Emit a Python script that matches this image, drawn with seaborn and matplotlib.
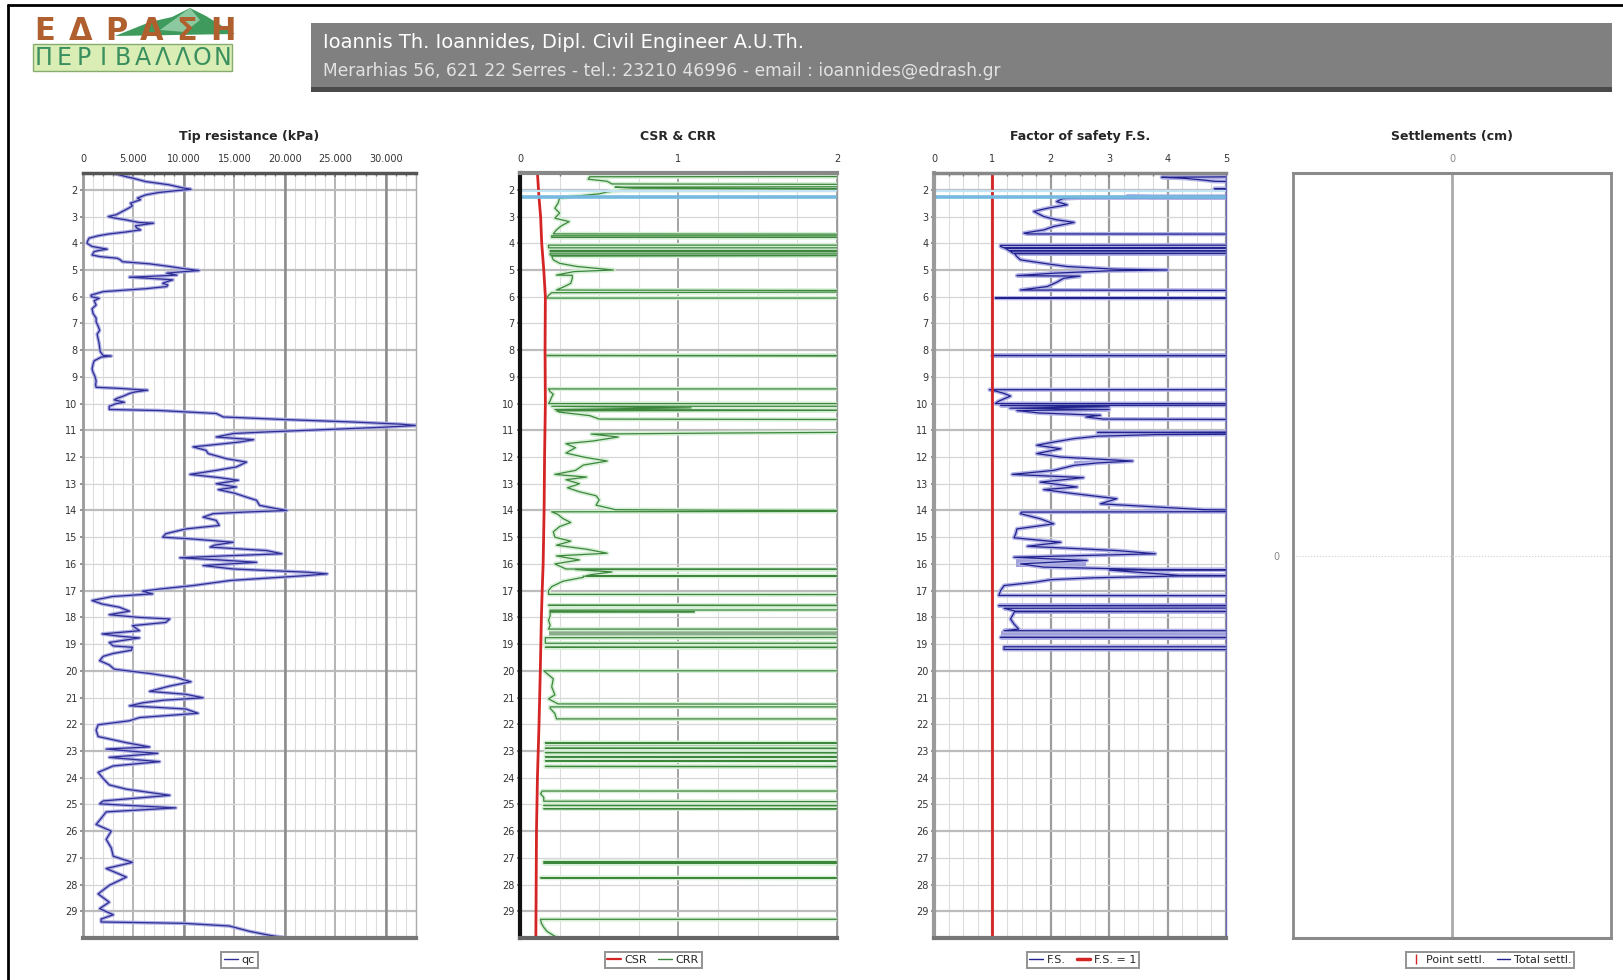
import numpy as np
import pandas as pd
import matplotlib
matplotlib.use("Agg")
import matplotlib.pyplot as plt
import seaborn as sns
from matplotlib.lines import Line2D
from matplotlib.patches import Rectangle, Polygon

sns.set_theme(style="white")
plt.rcParams['font.family'] = ['DejaVu Sans']

W, H = 1624, 980
DEPTH_TOP, DEPTH_BOTTOM = 1.37, 30.0

# ---- data ----------------------------------------------------------------
depth_ticks = list(range(2, 30))

qc_depth = [
    1.40, 1.50, 1.56, 1.69, 1.81, 1.92, 1.98, 2.04, 2.10, 2.19,
    2.31, 2.37, 2.50, 2.60, 2.69, 2.81, 2.93, 3.00, 3.06, 3.12,
    3.22, 3.25, 3.30, 3.35, 3.42, 3.50, 3.58, 3.65, 3.72, 3.81,
    3.92, 4.00, 4.12, 4.22, 4.27, 4.31, 4.44, 4.50, 4.56, 4.62,
    4.69, 4.77, 4.87, 4.95, 5.02, 5.08, 5.12, 5.19, 5.25, 5.27,
    5.32, 5.37, 5.45, 5.50, 5.56, 5.62, 5.70, 5.75, 5.81, 5.94,
    6.00, 6.06, 6.15, 6.31, 6.45, 6.63, 6.80, 6.94, 7.10, 7.26,
    7.40, 7.57, 7.75, 7.89, 8.05, 8.20, 8.22, 8.26, 8.40, 8.52,
    8.70, 8.83, 9.00, 9.15, 9.30, 9.39, 9.43, 9.50, 9.56, 9.62,
    9.72, 9.80, 9.86, 9.95, 10.00, 10.10, 10.22, 10.26, 10.37, 10.50,
    10.60, 10.69, 10.77, 10.82, 10.88, 10.94, 11.06, 11.12, 11.25, 11.35,
    11.44, 11.62, 11.75, 11.87, 12.06, 12.19, 12.37, 12.50, 12.65, 12.77,
    12.87, 13.00, 13.12, 13.22, 13.35, 13.50, 13.62, 13.81, 13.92, 14.00,
    14.06, 14.12, 14.25, 14.37, 14.56, 14.69, 14.87, 15.00, 15.06, 15.19,
    15.30, 15.37, 15.50, 15.62, 15.70, 15.77, 15.85, 15.94, 16.06, 16.19,
    16.31, 16.37, 16.44, 16.50, 16.62, 16.81, 16.94, 17.02, 17.12, 17.22,
    17.37, 17.50, 17.62, 17.77, 17.90, 18.00, 18.06, 18.19, 18.31, 18.50,
    18.62, 18.70, 18.77, 18.94, 19.07, 19.12, 19.23, 19.35, 19.46, 19.62,
    19.78, 19.94, 20.10, 20.25, 20.41, 20.57, 20.77, 20.88, 21.01, 21.10,
    21.20, 21.31, 21.43, 21.59, 21.75, 21.87, 22.02, 22.22, 22.46, 22.69,
    22.85, 22.93, 23.09, 23.24, 23.40, 23.56, 23.80, 24.03, 24.27, 24.43,
    24.66, 24.87, 24.98, 25.13, 25.28, 25.52, 25.75, 26.00, 26.31, 26.63,
    26.94, 27.17, 27.40, 27.72, 28.03, 28.35, 28.66, 28.90, 29.13, 29.29,
    29.40, 29.45, 29.55, 29.75, 29.90, 30.00,
]
qc_kpa = [
    3200, 4200, 4900, 6200, 8500, 9800, 10700, 9000, 7500, 6200,
    5400, 5700, 4700, 4900, 4500, 3900, 3300, 2500, 3200, 4200,
    5500, 7000, 6000, 5200, 5300, 5700, 4200, 2600, 1500, 600,
    450, 400, 900, 2400, 1600, 1100, 900, 1700, 3400, 3700,
    3900, 6600, 8600, 10000, 11500, 9400, 8300, 9300, 6000, 4600,
    7000, 8900, 8200, 7900, 8400, 8300, 6200, 4300, 2000, 800,
    820, 1600, 1100, 1300, 900, 1000, 1300, 1300, 1500, 1650,
    1400, 1500, 1600, 1650, 1700, 2000, 2800, 1800, 1100, 1000,
    900, 1000, 1200, 1300, 1250, 1300, 3600, 6400, 5200, 4600,
    4000, 3400, 3100, 4100, 3300, 2600, 2600, 7600, 13200, 13900,
    20200, 26800, 31500, 33000, 30000, 26200, 18200, 14900, 13200, 16900,
    15500, 10900, 12200, 12400, 14200, 16200, 15200, 13200, 10600, 13500,
    15400, 13200, 15200, 13400, 15000, 16200, 17200, 17500, 19000, 20200,
    16000, 12900, 11900, 13200, 13500, 10200, 8200, 7900, 10600, 14900,
    13000, 12600, 18200, 19700, 14000, 9600, 13500, 17200, 11900, 14900,
    22200, 24200, 22000, 19500, 14600, 10900, 7600, 5900, 6900, 2900,
    900, 1900, 3600, 4600, 2600, 5500, 8600, 8200, 4900, 5600,
    1900, 3500, 5600, 2600, 3000, 4900, 4800, 3000, 2000, 1650,
    2600, 3100, 6600, 9200, 10700, 8600, 6600, 10200, 11900, 8000,
    5900, 4600, 10200, 11400, 5600, 4600, 1500, 1300, 1500, 4300,
    6600, 2300, 7400, 2600, 7600, 3000, 1500, 2000, 2600, 4300,
    8600, 2000, 1650, 9200, 2300, 1800, 1300, 2800, 2300, 2800,
    3000, 4900, 2300, 4300, 2600, 1500, 2600, 1650, 3000, 1800,
    1800, 9900, 14500, 16500, 18500, 20300,
]
qc_ticks = [0, 5000, 10000, 15000, 20000, 25000, 30000]
qc_tick_labels = ["0", "5.000", "10.000", "15.000", "20.000", "25.000", "30.000"]

csr_depth = [1.37, 2.3, 3.0, 4.0, 5.0, 6.0, 8.0, 10.0, 12.0, 14.0, 16.0, 17.0,
             18.0, 20.0, 22.0, 24.0, 26.0, 28.0, 30.0]
csr_value = [0.11, 0.12, 0.13, 0.137, 0.15, 0.16, 0.158, 0.16, 0.155, 0.152,
             0.146, 0.14, 0.135, 0.128, 0.12, 0.11, 0.104, 0.102, 0.10]

# CRR, 2.5 = beyond the right edge of the scale (non liquefiable)
crr_depth = [
    1.50, 1.51, 1.60, 1.68, 1.78, 1.80, 1.88, 1.90, 1.94, 1.96,
    2.00, 2.02, 2.08, 2.15, 2.22, 2.27, 2.31, 2.50, 2.69, 2.87,
    3.06, 3.19, 3.35, 3.50, 3.65, 3.66, 3.72, 3.72, 3.78, 3.78,
    4.07, 4.07, 4.12, 4.17, 4.17, 4.27, 4.27, 4.30, 4.30, 4.37,
    4.37, 4.44, 4.44, 4.46, 4.48, 4.62, 4.75, 4.87, 5.00, 5.06,
    5.19, 5.20, 5.31, 5.50, 5.62, 5.75, 5.77, 5.82, 5.85, 5.95,
    6.05, 6.05, 8.20, 8.20, 8.22, 9.45, 9.45, 9.55, 9.65, 9.75,
    9.90, 10.00, 10.00, 10.10, 10.10, 10.16, 10.22, 10.25, 10.27, 10.32,
    10.45, 10.58, 10.60, 11.06, 11.10, 11.14, 11.25, 11.40, 11.50, 11.65,
    11.85, 12.00, 12.15, 12.30, 12.50, 12.65, 12.75, 12.85, 13.00, 13.15,
    13.30, 13.45, 13.60, 13.80, 13.97, 13.99, 14.00, 14.03, 14.05, 14.15,
    14.30, 14.45, 14.60, 14.80, 15.00, 15.15, 15.30, 15.45, 15.60, 15.70,
    15.85, 16.00, 16.19, 16.20, 16.21, 16.30, 16.40, 16.44, 16.45, 16.46,
    16.50, 16.65, 16.85, 17.00, 17.14, 17.15, 17.55, 17.55, 17.56, 17.72,
    17.73, 17.78, 17.79, 17.80, 17.95, 18.10, 18.30, 18.44, 18.44, 18.75,
    18.76, 18.97, 18.97, 19.12, 19.12, 19.13, 20.00, 20.00, 20.10, 20.30,
    20.60, 20.90, 21.05, 21.24, 21.25, 21.35, 21.35, 21.40, 21.60, 21.80,
    21.80, 22.70, 22.70, 22.71, 22.90, 22.90, 22.91, 23.06, 23.06, 23.07,
    23.22, 23.22, 23.23, 23.37, 23.37, 23.38, 23.58, 23.58, 23.59, 24.50,
    24.50, 24.60, 24.74, 24.88, 24.90, 25.04, 25.04, 25.05, 25.16, 25.16,
    25.17, 27.15, 27.15, 27.16, 27.20, 27.20, 27.21, 27.75, 27.75, 27.76,
    29.30, 29.30, 29.45, 29.60, 29.75, 29.90, 30.00,
]
crr_value = [
    2.5, 0.44, 0.43, 0.55, 0.58, 2.5, 2.5, 0.60, 0.72, 2.5,
    2.5, 0.63, 0.55, 0.50, 0.38, 0.30, 0.25, 0.24, 0.22, 0.25,
    0.22, 0.31, 0.26, 0.23, 0.21, 2.5, 2.5, 0.20, 0.20, 2.5,
    2.5, 0.18, 0.18, 0.18, 2.5, 2.5, 0.19, 0.19, 2.5, 2.5,
    0.19, 0.19, 2.5, 2.5, 0.20, 0.21, 0.25, 0.36, 0.59, 0.34,
    0.23, 0.33, 0.33, 0.32, 0.28, 0.23, 2.5, 2.5, 0.20, 0.18,
    0.17, 2.5, 2.5, 0.17, 2.5, 2.5, 0.18, 0.19, 0.21, 0.20,
    0.19, 0.18, 2.5, 2.5, 0.20, 1.08, 0.22, 2.5, 0.23, 0.25,
    0.44, 0.50, 2.5, 2.5, 1.33, 0.45, 0.62, 0.46, 0.29, 0.35,
    0.29, 0.40, 0.55, 0.40, 0.35, 0.22, 0.42, 0.29, 0.375, 0.30,
    0.375, 0.48, 0.50, 0.48, 0.60, 1.31, 2.5, 2.5, 0.20, 0.24,
    0.27, 0.32, 0.25, 0.21, 0.22, 0.32, 0.23, 0.42, 0.55, 0.23,
    0.375, 0.22, 0.29, 2.5, 0.35, 0.58, 0.45, 0.42, 2.5, 0.40,
    0.40, 0.27, 0.20, 0.18, 0.18, 2.5, 2.5, 0.18, 2.5, 2.5,
    0.19, 0.19, 1.10, 0.19, 0.19, 0.18, 0.19, 0.18, 2.5, 2.5,
    0.16, 0.16, 2.5, 2.5, 0.16, 2.5, 2.5, 0.15, 0.17, 0.21,
    0.20, 0.22, 0.18, 0.24, 2.5, 2.5, 0.19, 0.19, 0.22, 0.23,
    2.5, 2.5, 0.16, 2.5, 2.5, 0.16, 2.5, 2.5, 0.16, 2.5,
    2.5, 0.16, 2.5, 2.5, 0.16, 2.5, 2.5, 0.16, 2.5, 2.5,
    0.14, 0.13, 0.15, 0.15, 2.5, 2.5, 0.15, 2.5, 2.5, 0.15,
    2.5, 2.5, 0.15, 2.5, 2.5, 0.15, 2.5, 2.5, 0.13, 2.5,
    2.5, 0.13, 0.135, 0.15, 0.17, 0.21, 0.24,
]
crr_band_top = [1.80, 3.66, 4.07, 5.77, 8.18, 10.12, 11.06, 13.98, 17.55, 18.44, 19.12, 22.70, 27.15]
crr_band_bot = [2.00, 3.72, 4.12, 5.82, 8.26, 10.21, 11.14, 14.04, 17.72, 18.75, 19.22, 22.90, 27.20]
crr_band_x0 = [0.60, 0.21, 0.18, 0.23, 1.08, 0.20, 0.45, 1.31, 0.18, 0.18, 0.16, 0.16, 0.15]
crr_band_x1 = [2.0, 2.0, 2.0, 2.0, 2.0, 1.08, 1.33, 2.0, 2.0, 2.0, 2.0, 2.0, 2.0]

# factor of safety, 6.0 = beyond the right edge of the scale
fs_depth = [
    1.50, 1.53, 1.57, 1.63, 1.68, 1.72, 1.95, 1.96, 1.98, 2.24,
    2.25, 2.27, 2.28, 2.29, 2.30, 2.33, 2.44, 2.56, 2.69, 2.81,
    3.00, 3.12, 3.22, 3.37, 3.50, 3.62, 3.65, 3.66, 4.07, 4.08,
    4.12, 4.17, 4.17, 4.18, 4.27, 4.28, 4.29, 4.37, 4.38, 4.39,
    4.50, 4.62, 4.77, 4.87, 4.97, 5.00, 5.03, 5.12, 5.21, 5.23,
    5.31, 5.46, 5.62, 5.75, 5.77, 6.05, 6.05, 6.06, 8.20, 8.20,
    8.21, 9.48, 9.48, 9.55, 9.62, 9.72, 9.82, 9.92, 10.00, 10.00,
    10.06, 10.07, 10.12, 10.17, 10.22, 10.26, 10.35, 10.44, 10.50, 10.58,
    10.60, 11.06, 11.08, 11.10, 11.14, 11.16, 11.22, 11.31, 11.44, 11.56,
    11.69, 11.87, 12.00, 12.15, 12.22, 12.31, 12.50, 12.65, 12.77, 12.94,
    13.12, 13.22, 13.37, 13.56, 13.75, 13.87, 13.97, 14.00, 14.04, 14.06,
    14.12, 14.31, 14.50, 14.69, 14.87, 15.02, 15.19, 15.34, 15.50, 15.62,
    15.75, 15.87, 16.00, 16.12, 16.21, 16.22, 16.23, 16.43, 16.44, 16.45,
    16.52, 16.59, 16.69, 16.81, 17.00, 17.18, 17.19, 17.55, 17.56, 17.57,
    17.65, 17.66, 17.77, 17.78, 17.79, 18.06, 18.25, 18.44, 18.50, 18.50,
    18.75, 18.75, 18.76, 19.10, 19.10, 19.20, 19.21,
]
fs_value = [
    6.0, 3.9, 4.3, 4.6, 4.8, 6.0, 6.0, 4.8, 6.0, 6.0,
    3.3, 3.75, 6.0, 6.0, 2.5, 2.2, 2.1, 2.28, 1.94, 1.71,
    1.88, 2.10, 2.40, 2.05, 1.88, 1.54, 1.60, 6.0, 6.0, 1.14,
    1.14, 1.20, 6.0, 1.22, 1.28, 6.0, 1.30, 1.35, 6.0, 1.38,
    1.42, 1.48, 1.94, 2.28, 3.10, 4.00, 3.00, 2.05, 1.42, 2.50,
    2.22, 2.10, 1.94, 1.48, 6.0, 6.0, 1.05, 6.0, 6.0, 1.00,
    6.0, 6.0, 0.95, 1.09, 1.20, 1.31, 1.20, 1.10, 1.05, 6.0,
    6.0, 1.14, 3.00, 1.30, 3.00, 1.42, 1.80, 2.85, 2.60, 2.90,
    6.0, 6.0, 2.80, 6.0, 6.0, 3.80, 2.80, 2.40, 2.05, 1.76,
    2.17, 1.76, 2.17, 3.40, 2.80, 2.40, 2.05, 1.34, 2.56, 1.82,
    2.45, 1.88, 2.40, 3.13, 2.85, 3.82, 4.62, 6.0, 6.0, 1.50,
    1.48, 1.82, 2.05, 1.42, 1.40, 1.37, 2.17, 1.60, 3.13, 3.79,
    1.37, 2.62, 1.48, 1.88, 3.70, 6.0, 3.00, 4.20, 6.0, 4.20,
    2.73, 2.00, 1.71, 1.20, 1.14, 1.11, 6.0, 6.0, 1.11, 6.0,
    6.0, 1.20, 1.40, 6.0, 1.38, 1.31, 1.37, 1.45, 1.20, 6.0,
    6.0, 1.14, 6.0, 6.0, 1.20, 1.20, 6.0,
]
fs_band_top = [1.54, 2.25, 3.65, 5.76, 8.18, 10.10, 11.06, 12.14, 13.95, 15.80, 17.55, 17.74, 18.50, 19.10]
fs_band_bot = [1.62, 2.29, 3.69, 5.80, 8.25, 10.24, 11.16, 12.22, 14.04, 16.10, 17.65, 17.82, 18.75, 19.22]
fs_band_x0 = [4.0, 3.3, 2.0, 1.5, 3.0, 1.3, 2.8, 2.4, 3.6, 1.4, 1.1, 3.3, 1.14, 1.2]
fs_band_x1 = [4.8, 5.0, 5.0, 5.0, 5.0, 3.0, 5.0, 3.4, 5.0, 2.6, 5.0, 5.0, 5.0, 5.0]
fs_limit = 1.0

water_table = [2.06, 2.28]

QC_COLOR, QC_HALO = "#2e2e96", "#aeaee2"
CRR_COLOR, CRR_HALO, CRR_BAND = "#3d873d", "#d6efd6", "#8bad8b"
FS_COLOR, FS_HALO, FS_BAND = "#22228f", "#b3b3e6", "#a2a2da"
CSR_COLOR = "#d42424"

# ---- layout -----------------------------------------------------------------
fig = plt.figure(figsize=(16.24, 9.8), dpi=100)
fig.patch.set_facecolor("white")


def place(left, right, top=173, bottom=938):
    return fig.add_axes([left / W, 1 - bottom / H, (right - left) / W, (bottom - top) / H])


ax1 = place(83, 416)
ax2 = place(520, 837)
ax3 = place(934, 1226)
ax4 = place(1293, 1611)


def profile(ax, values, depths, color, halo, lw=1.0, halo_lw=3.0):
    frame = pd.DataFrame({"value": values, "depth": depths})
    sns.lineplot(data=frame, x="value", y="depth", sort=False, estimator=None,
                 color=halo, lw=halo_lw, ax=ax, zorder=2)
    sns.lineplot(data=frame, x="value", y="depth", sort=False, estimator=None,
                 color=color, lw=lw, ax=ax, zorder=3)


def depth_axis(ax):
    ax.set_ylim(DEPTH_BOTTOM, DEPTH_TOP)
    ax.set_yticks(depth_ticks)
    ax.set_yticklabels([str(d) for d in depth_ticks], fontsize=7, color="#333333")
    ax.tick_params(axis="y", left=True, length=2, pad=2, color="#888888")
    for d in depth_ticks:
        heavy = (d - 2) % 3 == 0
        ax.axhline(d, color="#bcbcbc" if heavy else "#d6d6d6",
                   lw=1.6 if heavy else 0.9, zorder=0.6)


def top_axis(ax, ticks, labels, minor_step, major_color, major_lw):
    ax.set_xticks(ticks)
    ax.set_xticklabels(labels, fontsize=7, color="#333333")
    lo, hi = ax.get_xlim()
    ax.set_xticks(np.arange(lo, hi + 1e-9, minor_step), minor=True)
    ax.tick_params(axis="x", which="both", top=True, bottom=False, labeltop=True,
                   labelbottom=False, direction="in", length=3, pad=6.5, color="#777777")
    ax.tick_params(axis="x", which="minor", length=2)
    ax.grid(which="minor", axis="x", color="#dcdcdc", lw=0.8, zorder=0.5)
    ax.grid(which="major", axis="x", color=major_color, lw=major_lw, zorder=0.5)
    ax.set_axisbelow(True)


def spines(ax, left, top, bottom, right):
    for side, (c, w) in zip(["left", "top", "bottom", "right"], [left, top, bottom, right]):
        ax.spines[side].set_color(c)
        ax.spines[side].set_linewidth(w)
        ax.spines[side].set_zorder(6)


def legend(ax, handles, labels, xpos):
    leg = ax.legend(handles, labels, loc="center", bbox_to_anchor=(xpos, -0.029),
                    ncol=len(labels), fontsize=8, frameon=True, fancybox=False,
                    edgecolor="#777777", handlelength=1.2, handletextpad=0.35,
                    columnspacing=1.0, borderpad=0.25)
    leg.get_frame().set_linewidth(1.4)


def title(ax, text):
    ax.set_title(text, fontsize=9, fontweight="bold", pad=10)


# panel 1: tip resistance
profile(ax1, qc_kpa, qc_depth, QC_COLOR, QC_HALO, lw=0.9, halo_lw=2.6)
ax1.set_xlim(0, 33000)
depth_axis(ax1)
top_axis(ax1, qc_ticks, qc_tick_labels, 1000, "#a8a8a8", 1.2)
for t in qc_ticks[2::2]:
    ax1.axvline(t, color="#8c8c8c", lw=1.8, zorder=0.7)
spines(ax1, ("#9a9a9a", 2), ("#555555", 2.5), ("#777777", 3), ("#aaaaaa", 1))
title(ax1, "Tip resistance (kPa)")
legend(ax1, [Line2D([], [], color=QC_COLOR, lw=1)], ["qc"], 0.47)

# panel 2: CSR & CRR
for top, bot, x0, x1 in zip(crr_band_top, crr_band_bot, crr_band_x0, crr_band_x1):
    ax2.fill_betweenx([top, bot], x0, x1, color=CRR_BAND, lw=0, zorder=1.5)
profile(ax2, crr_value, crr_depth, CRR_COLOR, CRR_HALO, lw=0.9, halo_lw=3.2)
sns.lineplot(x=csr_value, y=csr_depth, sort=False, estimator=None, color=CSR_COLOR,
             lw=2.0, ax=ax2, zorder=4)
ax2.axhline(water_table[0], color="#c4e4f5", lw=1.6, zorder=5)
ax2.axhline(water_table[1], color="#76b9e0", lw=2.6, zorder=5)
ax2.set_xlim(0, 2)
depth_axis(ax2)
top_axis(ax2, [0, 1, 2], ["0", "1", "2"], 0.25, "#8a8a8a", 1.1)
spines(ax2, ("#111111", 3), ("#888888", 3), ("#666666", 3), ("#999999", 1))
title(ax2, "CSR & CRR")
legend(ax2, [Line2D([], [], color=CSR_COLOR, lw=1.6), Line2D([], [], color=CRR_COLOR, lw=1)],
       ["CSR", "CRR"], 0.42)

# panel 3: factor of safety
for top, bot, x0, x1 in zip(fs_band_top, fs_band_bot, fs_band_x0, fs_band_x1):
    ax3.fill_betweenx([top, bot], x0, x1, color=FS_BAND, lw=0, zorder=1.5)
profile(ax3, fs_value, fs_depth, FS_COLOR, FS_HALO, lw=0.9, halo_lw=3.0)
ax3.axvline(fs_limit, color=CSR_COLOR, lw=2, zorder=4)
ax3.axhline(water_table[0], color="#c4e4f5", lw=1.6, zorder=5)
ax3.axhline(water_table[1], color="#76b9e0", lw=2.6, zorder=5)
ax3.set_xlim(0, 5)
depth_axis(ax3)
top_axis(ax3, [0, 1, 2, 3, 4, 5], ["0", "1", "2", "3", "4", "5"], 0.25, "#9c9c9c", 1.6)
spines(ax3, ("#9a9a9a", 3), ("#888888", 2.5), ("#777777", 3), ("#6a6ab0", 1))
title(ax3, "Factor of safety F.S.")
legend(ax3, [Line2D([], [], color=FS_COLOR, lw=1), Line2D([], [], color=CSR_COLOR, lw=2.5)],
       ["F.S.", "F.S. = 1"], 0.51)

# panel 4: settlements (empty)
ax4.set_xlim(-1, 1)
ax4.set_ylim(1, -1)
ax4.set_xticks([0])
ax4.set_xticklabels(["0"], fontsize=7, color="#888888")
ax4.set_yticks([0])
ax4.set_yticklabels(["0"], fontsize=7, color="#888888")
ax4.tick_params(axis="x", top=True, bottom=False, labeltop=True, labelbottom=False,
                length=3, direction="in", pad=6.5, color="#888888")
ax4.tick_params(axis="y", left=False, pad=4)
ax4.axvline(0, color="#ababab", lw=2, zorder=1)
ax4.axhline(0, color="#d0d0d0", lw=0.8, ls=":", zorder=1)
spines(ax4, ("#8a8a8a", 2), ("#8a8a8a", 2.2), ("#8a8a8a", 2.2), ("#8a8a8a", 2))
title(ax4, "Settlements (cm)")
legend(ax4, [Line2D([], [], color=CSR_COLOR, lw=0, marker="|", markersize=7),
             Line2D([], [], color=FS_COLOR, lw=1)],
       ["Point settl.", "Total settl."], 0.62)

for ax in (ax1, ax2, ax3, ax4):
    ax.set_xlabel("")
    ax.set_ylabel("")

# ---- header -------------------------------------------------------------------
def fx(px):
    return px / W


def fy(py):
    return 1 - py / H


fig.add_artist(Rectangle((fx(311), fy(92)), fx(1612) - fx(311), fy(87) - fy(92),
                         transform=fig.transFigure, color="#4a4a4a", lw=0))
fig.add_artist(Rectangle((fx(311), fy(87)), fx(1612) - fx(311), fy(23) - fy(87),
                         transform=fig.transFigure, color="#808080", lw=0))
fig.text(fx(323), fy(43), "Ioannis Th. Ioannides, Dipl. Civil Engineer A.U.Th.",
         fontsize=14, color="white", va="center", ha="left")
fig.text(fx(323), fy(71), "Merarhias 56, 621 22 Serres - tel.: 23210 46996 - email : ioannides@edrash.gr",
         fontsize=12.3, color="#e2e2e2", va="center", ha="left")

# logo
fig.add_artist(Polygon([(fx(115), fy(36)), (fx(150), fy(22)), (fx(172), fy(17)),
                        (fx(190), fy(8)), (fx(206), fy(16)), (fx(235), fy(34))],
                       closed=True, transform=fig.transFigure, color="#3f9a5e", lw=0))
fig.add_artist(Polygon([(fx(160), fy(30)), (fx(190), fy(8)), (fx(200), fy(20)), (fx(185), fy(32))],
                       closed=True, transform=fig.transFigure, color="#8cc9a0", lw=0))
for i, ch in enumerate("ΕΔΡΑΣΗ"):
    fig.text(fx(45 + i * 35.5), fy(32), ch, fontsize=22, fontweight="bold",
             color="#b0602e", ha="center", va="center")
fig.add_artist(Rectangle((fx(33), fy(71)), fx(232) - fx(33), fy(44) - fy(71),
                         transform=fig.transFigure, facecolor="#d9edb5",
                         edgecolor="#86ad6e", lw=1))
for i, ch in enumerate("ΠΕΡΙΒΑΛΛΟΝ"):
    fig.text(fx(44 + i * 19.8), fy(58), ch, fontsize=17, color="#3a8f5e",
             ha="center", va="center")

# page frame
fig.add_artist(Line2D([fx(8), fx(8)], [fy(5), 0], transform=fig.transFigure, color="black", lw=2))
fig.add_artist(Line2D([fx(8), 1], [fy(5), fy(5)], transform=fig.transFigure, color="black", lw=2))

fig.savefig("out.png", dpi=100)
